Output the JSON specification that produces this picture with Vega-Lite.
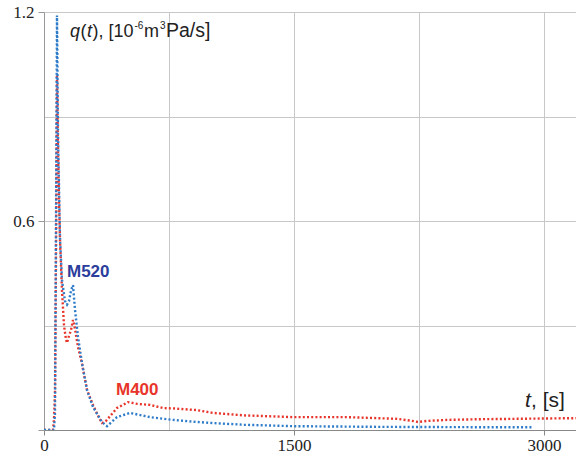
{
  "$schema": "https://vega.github.io/schema/vega-lite/v6.json",
  "width": 532,
  "height": 418,
  "autosize": {"type": "none"},
  "padding": {"left": 44, "top": 12, "right": 0, "bottom": 27},
  "background": "white",
  "config": {"view": {"stroke": null}},
  "datasets": {
    "curves": [
      {"series": "M400", "t": 0, "q": 0},
      {"series": "M400", "t": 54, "q": 0},
      {"series": "M400", "t": 60, "q": 0.03},
      {"series": "M400", "t": 66, "q": 0.11},
      {"series": "M400", "t": 72, "q": 0.5},
      {"series": "M400", "t": 78, "q": 1.02},
      {"series": "M400", "t": 84, "q": 0.8},
      {"series": "M400", "t": 90, "q": 0.66},
      {"series": "M400", "t": 96, "q": 0.545},
      {"series": "M400", "t": 108, "q": 0.4},
      {"series": "M400", "t": 120, "q": 0.3},
      {"series": "M400", "t": 132, "q": 0.26},
      {"series": "M400", "t": 138, "q": 0.25},
      {"series": "M400", "t": 150, "q": 0.27},
      {"series": "M400", "t": 162, "q": 0.287},
      {"series": "M400", "t": 174, "q": 0.316},
      {"series": "M400", "t": 186, "q": 0.29},
      {"series": "M400", "t": 204, "q": 0.238},
      {"series": "M400", "t": 228, "q": 0.19},
      {"series": "M400", "t": 258, "q": 0.115},
      {"series": "M400", "t": 294, "q": 0.072},
      {"series": "M400", "t": 330, "q": 0.035},
      {"series": "M400", "t": 348, "q": 0.02},
      {"series": "M400", "t": 370, "q": 0.025},
      {"series": "M400", "t": 438, "q": 0.063},
      {"series": "M400", "t": 504, "q": 0.08},
      {"series": "M400", "t": 560, "q": 0.075},
      {"series": "M400", "t": 636, "q": 0.072},
      {"series": "M400", "t": 714, "q": 0.063},
      {"series": "M400", "t": 774, "q": 0.062},
      {"series": "M400", "t": 918, "q": 0.057},
      {"series": "M400", "t": 1014, "q": 0.049},
      {"series": "M400", "t": 1200, "q": 0.042},
      {"series": "M400", "t": 1494, "q": 0.037},
      {"series": "M400", "t": 1818, "q": 0.037},
      {"series": "M400", "t": 2118, "q": 0.032},
      {"series": "M400", "t": 2200, "q": 0.027},
      {"series": "M400", "t": 2244, "q": 0.023},
      {"series": "M400", "t": 2300, "q": 0.026},
      {"series": "M400", "t": 2418, "q": 0.029},
      {"series": "M400", "t": 2616, "q": 0.031},
      {"series": "M400", "t": 2814, "q": 0.032},
      {"series": "M400", "t": 3000, "q": 0.033},
      {"series": "M400", "t": 3192, "q": 0.034},
      {"series": "M520", "t": 0, "q": 0},
      {"series": "M520", "t": 54, "q": 0},
      {"series": "M520", "t": 60, "q": 0.0},
      {"series": "M520", "t": 66, "q": 0.05},
      {"series": "M520", "t": 72, "q": 0.6},
      {"series": "M520", "t": 78, "q": 1.19},
      {"series": "M520", "t": 84, "q": 0.85},
      {"series": "M520", "t": 96, "q": 0.55},
      {"series": "M520", "t": 108, "q": 0.43},
      {"series": "M520", "t": 126, "q": 0.37},
      {"series": "M520", "t": 138, "q": 0.36},
      {"series": "M520", "t": 150, "q": 0.37},
      {"series": "M520", "t": 162, "q": 0.4},
      {"series": "M520", "t": 174, "q": 0.416},
      {"series": "M520", "t": 186, "q": 0.345},
      {"series": "M520", "t": 204, "q": 0.267},
      {"series": "M520", "t": 228, "q": 0.192},
      {"series": "M520", "t": 258, "q": 0.115},
      {"series": "M520", "t": 294, "q": 0.066},
      {"series": "M520", "t": 348, "q": 0.023},
      {"series": "M520", "t": 378, "q": 0.011},
      {"series": "M520", "t": 438, "q": 0.037},
      {"series": "M520", "t": 516, "q": 0.049},
      {"series": "M520", "t": 636, "q": 0.037},
      {"series": "M520", "t": 774, "q": 0.029},
      {"series": "M520", "t": 918, "q": 0.023},
      {"series": "M520", "t": 1014, "q": 0.02},
      {"series": "M520", "t": 1200, "q": 0.015},
      {"series": "M520", "t": 1494, "q": 0.011},
      {"series": "M520", "t": 2016, "q": 0.009},
      {"series": "M520", "t": 2616, "q": 0.008},
      {"series": "M520", "t": 2934, "q": 0.008}
    ],
    "ytitle": [{"t": 156, "q": 1.128}],
    "xtitle": [{"t": 2886, "q": 0.066}],
    "m520": [{"t": 138, "q": 0.439, "label": "M520"}],
    "m400": [{"t": 432, "q": 0.1005, "label": "M400"}]
  },
  "encoding": {
    "x": {
      "field": "t",
      "type": "quantitative",
      "scale": {"domain": [0, 3192], "nice": false, "zero": false},
      "axis": {
        "values": [0, 750, 1500, 2250, 3000],
        "format": "d",
        "grid": true,
        "gridColor": "#c8c8c8",
        "gridWidth": 1,
        "labelExpr": "datum.value % 1500 == 0 ? datum.label : ''",
        "labelFont": "Liberation Serif",
        "labelFontSize": 17,
        "labelColor": "#222222",
        "labelPadding": 2,
        "labelFlush": false,
        "labelOverlap": false,
        "tickSize": 5,
        "tickColor": "#888888",
        "tickOpacity": {"condition": {"test": "datum.value % 1500 == 0", "value": 1}, "value": 0},
        "domainColor": "#888888",
        "title": null
      }
    },
    "y": {
      "field": "q",
      "type": "quantitative",
      "scale": {"domain": [0, 1.2], "nice": false, "zero": true},
      "axis": {
        "values": [0, 0.3, 0.6, 0.9, 1.2],
        "grid": true,
        "gridColor": "#c8c8c8",
        "gridWidth": 1,
        "labelExpr": "datum.value == 0.6 || datum.value == 1.2 ? format(datum.value, '.1f') : ''",
        "labelFont": "Liberation Serif",
        "labelFontSize": 17,
        "labelColor": "#222222",
        "labelPadding": 4,
        "labelFlush": false,
        "labelOverlap": false,
        "tickSize": 6,
        "tickColor": "#999999",
        "tickOpacity": {"condition": {"test": "datum.value == 0.3 || datum.value == 0.9", "value": 0}, "value": 1},
        "domainColor": "#999999",
        "title": null
      }
    }
  },
  "layer": [
    {
      "data": {"name": "curves"},
      "mark": {"type": "line", "strokeDash": [2, 2.2], "strokeWidth": 2.4, "clip": true},
      "encoding": {
        "color": {
          "field": "series",
          "type": "nominal",
          "scale": {"domain": ["M400", "M520"], "range": ["#e8352b", "#2e7cc9"]},
          "legend": null
        }
      }
    },
    {
      "data": {"name": "m520"},
      "mark": {"type": "text", "align": "left", "baseline": "alphabetic", "font": "Liberation Sans", "fontSize": 17, "fontWeight": "bold", "color": "#2c3e9c"},
      "encoding": {"text": {"field": "label"}}
    },
    {
      "data": {"name": "m400"},
      "mark": {"type": "text", "align": "left", "baseline": "alphabetic", "font": "Liberation Sans", "fontSize": 17, "fontWeight": "bold", "color": "#e8352b"},
      "encoding": {"text": {"field": "label"}}
    },
    {
      "data": {"name": "ytitle"},
      "mark": {"type": "text", "align": "left", "baseline": "alphabetic", "font": "Liberation Sans", "fontSize": 18, "fontStyle": "italic", "color": "#222222", "text": "q", "dx": 0}
    },
    {
      "data": {"name": "ytitle"},
      "mark": {"type": "text", "align": "left", "baseline": "alphabetic", "font": "Liberation Sans", "fontSize": 18, "color": "#222222", "text": "(", "dx": 10.5}
    },
    {
      "data": {"name": "ytitle"},
      "mark": {"type": "text", "align": "left", "baseline": "alphabetic", "font": "Liberation Sans", "fontSize": 18, "fontStyle": "italic", "color": "#222222", "text": "t", "dx": 17}
    },
    {
      "data": {"name": "ytitle"},
      "mark": {"type": "text", "align": "left", "baseline": "alphabetic", "font": "Liberation Sans", "fontSize": 18, "color": "#222222", "text": "), [10", "dx": 22.5}
    },
    {
      "data": {"name": "ytitle"},
      "mark": {"type": "text", "align": "left", "baseline": "alphabetic", "font": "Liberation Sans", "fontSize": 10, "color": "#222222", "text": "-6", "dx": 64.5, "dy": -8}
    },
    {
      "data": {"name": "ytitle"},
      "mark": {"type": "text", "align": "left", "baseline": "alphabetic", "font": "Liberation Sans", "fontSize": 18, "color": "#222222", "text": "m", "dx": 74}
    },
    {
      "data": {"name": "ytitle"},
      "mark": {"type": "text", "align": "left", "baseline": "alphabetic", "font": "Liberation Sans", "fontSize": 10, "color": "#222222", "text": "3", "dx": 90, "dy": -8}
    },
    {
      "data": {"name": "ytitle"},
      "mark": {"type": "text", "align": "left", "baseline": "alphabetic", "font": "Liberation Sans", "fontSize": 19.5, "color": "#222222", "text": "Pa/s]", "dx": 96}
    },
    {
      "data": {"name": "xtitle"},
      "mark": {"type": "text", "align": "left", "baseline": "alphabetic", "font": "Liberation Sans", "fontSize": 21, "fontStyle": "italic", "color": "#222222", "text": "t", "dx": 0}
    },
    {
      "data": {"name": "xtitle"},
      "mark": {"type": "text", "align": "left", "baseline": "alphabetic", "font": "Liberation Sans", "fontSize": 21, "color": "#222222", "text": ", [s]", "dx": 6}
    }
  ]
}
